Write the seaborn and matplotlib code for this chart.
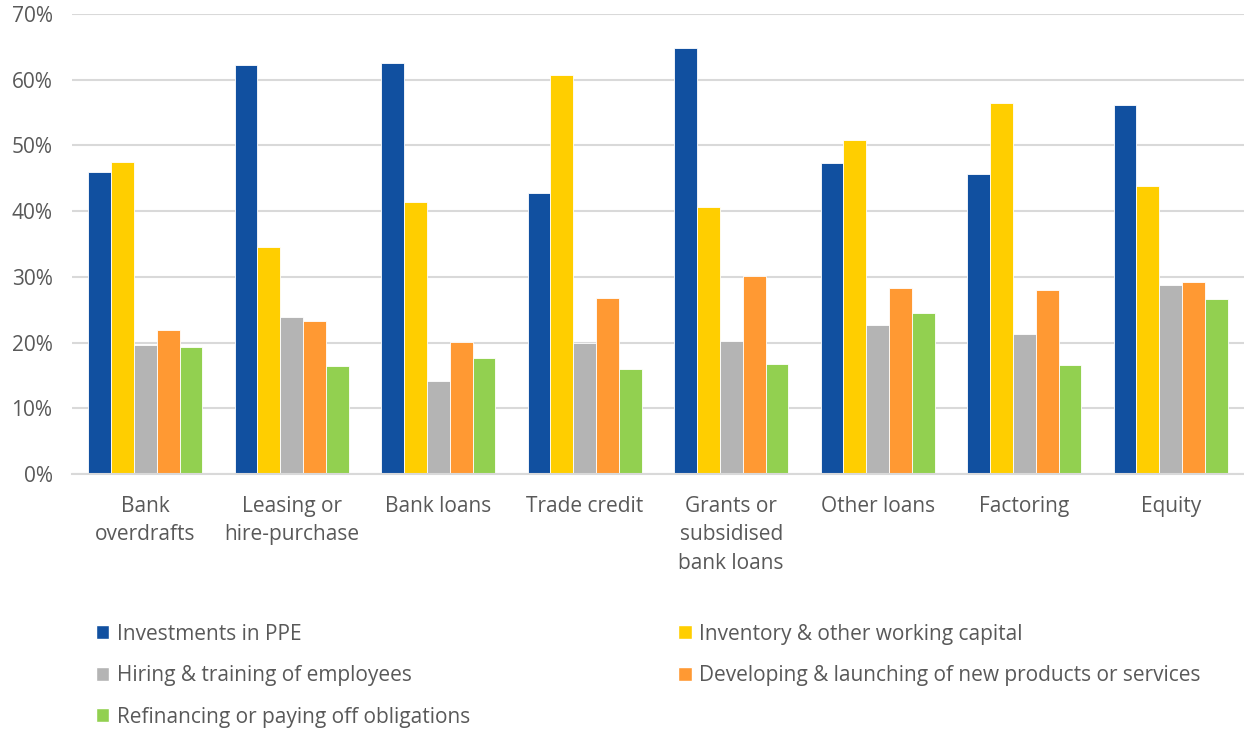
import matplotlib
matplotlib.use("Agg")
import matplotlib.pyplot as plt
from matplotlib.patches import Patch
from matplotlib.ticker import FuncFormatter
import pandas as pd
import seaborn as sns

# データ
categories = ["Bank\noverdrafts", "Leasing or\nhire-purchase", "Bank loans", "Trade credit",
              "Grants or\nsubsidised\nbank loans", "Other loans", "Factoring", "Equity"]
series = ["Investments in PPE", "Inventory & other working capital",
          "Hiring & training of employees", "Developing & launching of new products or services",
          "Refinancing or paying off obligations"]
ppe = [46.0, 62.2, 62.5, 42.8, 64.9, 47.3, 45.6, 56.1]
inventory = [47.5, 34.5, 41.4, 60.7, 40.6, 50.9, 56.4, 43.9]
hiring = [19.6, 23.9, 14.1, 19.9, 20.3, 22.6, 21.3, 28.8]
developing = [21.9, 23.3, 20.1, 26.8, 30.2, 28.3, 28.0, 29.2]
refinancing = [19.3, 16.5, 17.7, 16.0, 16.8, 24.5, 16.6, 26.7]
colors = ["#1150A0", "#FFCE00", "#B4B4B4", "#FF9933", "#92D050"]

records = []
for name, vals in zip(series, [ppe, inventory, hiring, developing, refinancing]):
    for cat, v in zip(categories, vals):
        records.append({"Category": cat, "Series": name, "Value": v})
df = pd.DataFrame(records)

sns.set_style("white")
plt.rcParams['font.family'] = ['Open Sans', 'DejaVu Sans']
text_color = "#595959"

fig = plt.figure(figsize=(12.44, 7.31), dpi=100)
ax = fig.add_axes([72 / 1244, 1 - 474 / 731, 1 - 72 / 1244, 460 / 731])

sns.barplot(data=df, x="Category", y="Value", hue="Series", palette=colors,
            saturation=1, width=0.78, edgecolor="white", linewidth=0.6,
            ax=ax, legend=False)

ax.set_ylim(0, 70)
ax.set_xlim(-0.5, len(categories) - 0.5)
ax.set_yticks(range(0, 71, 10))
ax.yaxis.set_major_formatter(FuncFormatter(lambda v, p: f"{int(v)}%"))
ax.grid(axis="y", color="#D9D9D9", linewidth=1.5)
ax.set_axisbelow(True)
for s in ["top", "right", "left"]:
    ax.spines[s].set_visible(False)
ax.spines["bottom"].set_color("#D9D9D9")
ax.spines["bottom"].set_linewidth(1.5)
ax.tick_params(axis="both", length=0, labelsize=15, colors=text_color)
ax.tick_params(axis="x", pad=16)
ax.tick_params(axis="y", pad=14)
for lbl in ax.get_xticklabels():
    lbl.set_linespacing(1.45)
ax.set_xlabel("")
ax.set_ylabel("")

# 凡例 (行ごとに並べる)
handles = [Patch(facecolor=c) for c in colors]
order = [0, 2, 4, 1, 3]
fig.legend([handles[i] for i in order], [series[i] for i in order],
           loc="upper left", bbox_to_anchor=(77 / 1244, 1 - 605 / 731), ncol=2,
           frameon=False, fontsize=15, labelcolor=text_color,
           handlelength=0.65, handleheight=0.65, handletextpad=0.35,
           columnspacing=10.0, labelspacing=0.98)

fig.savefig("out.png", dpi=100)
